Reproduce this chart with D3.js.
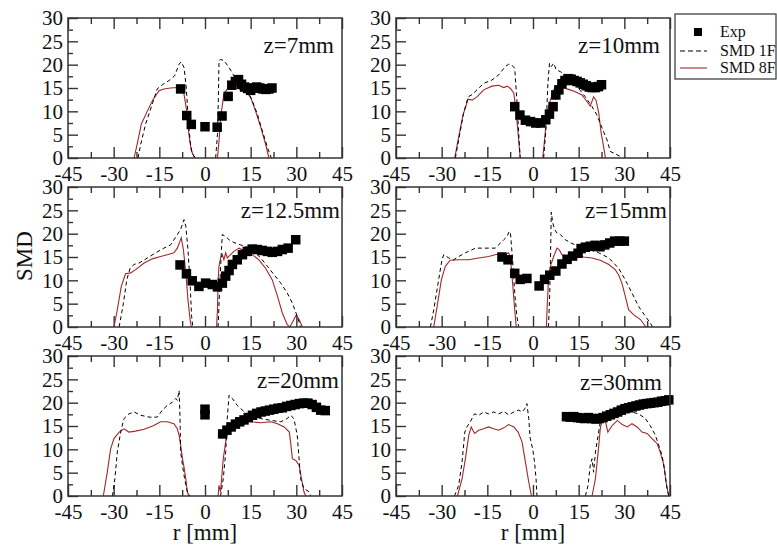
<!DOCTYPE html>
<html>
<head>
<meta charset="utf-8">
<script src="https://cdn.jsdelivr.net/npm/d3@7"></script>
<style>
  html, body { margin: 0; padding: 0; background: #fff; }
  svg { display: block; }
  svg text { font-family: "Liberation Serif", "Times New Roman", Times, serif; fill: #111; }
</style>
</head>
<body>
<svg id="chart" width="777" height="550"></svg>
<script>
// ---- tick values ----
const xTicks = [-45, -30, -15, 0, 15, 30, 45];
const xMinor = [-37.5, -22.5, -7.5, 7.5, 22.5, 37.5];
const yTicks = [0, 5, 10, 15, 20, 25, 30];
const yMinor = [2.5, 7.5, 12.5, 17.5, 22.5, 27.5];

// ---- panel titles ----
const titles = ["z=7mm", "z=10mm", "z=12.5mm", "z=15mm", "z=20mm", "z=30mm"];

// ---- experimental SMD (r, SMD) ----
const exp7 = [[-8.0,14.8],[-6.0,9.1],[-4.5,7.2],[0,6.7],[4,6.6],[5.6,9.0],[7.6,13.2],[8.8,15.6],[10,16.4],[11,16.8],[12,15.8],[13,15.2],[14,14.9],[15,14.5],[16,15.0],[17,15.2],[18,15.0],[19,14.8],[20,14.7],[21,14.8],[22,15.0]];
const exp10 = [[-6,11.0],[-4.3,9.2],[-2.5,8.1],[-0.8,7.8],[0.9,7.5],[2.5,7.5],[4.2,8.2],[5.4,9.4],[6.6,11.0],[7.5,13.5],[8.5,14.6],[9.5,15.9],[10.5,16.6],[11.5,17.0],[12.5,16.9],[13.5,16.6],[14.5,16.4],[15.5,16.1],[16.5,15.8],[17.5,15.5],[18.5,15.2],[19.5,15.1],[20.5,15.1],[21.5,15.3],[22.5,15.7]];
const exp12 = [[-8.2,13.3],[-6.1,11.4],[-4.2,9.9],[-2.0,8.7],[0.2,9.4],[2.4,9.1],[4.1,8.6],[5.7,9.4],[6.8,10.9],[7.9,12.1],[9.0,13.4],[10.6,14.4],[12.3,15.5],[13.9,16.2],[15.5,16.7],[17.2,16.6],[18.8,16.4],[20.5,16.2],[22.1,16.0],[23.8,16.2],[25.4,16.6],[27.3,16.9],[29.8,18.7]];
const exp15 = [[-10.2,15.0],[-8.2,14.4],[-6.0,11.5],[-4.2,10.2],[-2.0,10.4],[2.0,8.8],[3.8,10.2],[5.5,11.1],[7.5,12.0],[9.5,13.5],[11.2,14.5],[13.0,15.2],[14.8,15.8],[15.8,16.8],[17.2,17.1],[18.8,17.3],[20.4,17.5],[22.0,17.2],[23.6,17.6],[25.2,18.0],[26.8,18.4],[28.4,18.4],[30.0,18.4]];
const exp20 = [[0,18.6],[0,17.4],[5.8,13.3],[7.2,14.1],[8.6,14.8],[10.0,15.4],[11.4,15.9],[12.8,16.3],[14.2,16.8],[15.6,17.3],[17.0,17.7],[18.4,18.0],[19.8,18.2],[21.2,18.4],[22.6,18.6],[24.0,18.8],[25.4,18.9],[26.8,19.2],[28.2,19.4],[29.6,19.6],[31.0,19.8],[32.4,19.9],[33.8,19.9],[35.2,19.6],[36.6,19.0],[38.0,18.4],[39.5,18.3]];
const exp30 = [[11.0,17.0],[12.2,16.9],[13.4,17.0],[14.6,16.8],[15.8,16.7],[17.0,16.6],[18.2,16.8],[19.4,16.6],[20.6,16.5],[21.8,16.6],[23.0,16.8],[24.2,17.1],[25.4,17.4],[26.6,17.7],[27.8,18.0],[29.0,18.4],[30.2,18.7],[31.4,18.9],[32.6,19.1],[33.8,19.3],[35.0,19.5],[36.2,19.7],[37.4,19.8],[38.6,19.9],[39.8,20.0],[41.0,20.1],[42.2,20.3],[43.4,20.4],[44.6,20.6]];

// ---- SMD 1F simulation (null separates the two spray lobes) ----
const smd1F_7 = [[-22.0,0],[-21.1,3.0],[-19.5,7.3],[-17.3,11.6],[-15.7,14.8],[-14.0,15.7],[-11.8,16.6],[-10.0,17.6],[-8.5,20.1],[-7.8,20.6],[-6.9,19.4],[-6.2,15.5],[-5.6,9.4],[-4.9,3.7],[-4.2,0.9],[-3.1,0], null,
  [3.5,0],[4.1,5.1],[4.4,13.0],[4.6,20.9],[5.1,21.1],[6.2,20.9],[7.9,19.4],[9.5,17.6],[11.7,16.6],[13.9,14.4],[15.5,12.3],[17.2,9.4],[18.8,5.9],[20.5,2.3],[21.8,0]];
const smd1F_10 = [[-25.5,0],[-24.4,3.9],[-22.8,9.6],[-21.3,13.1],[-20.0,13.6],[-18.4,14.6],[-16.2,16.0],[-13.5,16.7],[-11.3,17.8],[-9.1,19.6],[-8.0,20.1],[-6.9,19.9],[-6.0,19.2],[-5.3,12.4],[-4.7,5.3],[-4.2,0], null,
  [3.5,0],[4.3,6.7],[4.9,16.0],[5.4,20.3],[6.0,19.6],[6.8,20.3],[7.6,18.9],[9.0,18.5],[10.6,17.8],[12.8,16.4],[15.0,14.9],[17.2,13.1],[19.4,11.0],[21.0,9.2],[22.1,7.4],[23.2,5.6],[24.3,3.9],[25.4,1.4],[27.0,0.9],[28.7,0.3],[29.2,0]];
const smd1F_12 = [[-28.2,0],[-26.8,5.1],[-25.7,10.1],[-24.6,12.6],[-23.3,13.4],[-21.7,13.7],[-18.9,14.8],[-16.2,15.9],[-13.5,16.9],[-11.3,17.6],[-9.1,19.8],[-8.0,20.9],[-6.9,23.0],[-6.3,21.6],[-5.6,16.6],[-4.9,9.4],[-4.4,2.3],[-4.0,0], null,
  [4.3,0],[4.8,8.0],[5.4,16.6],[5.7,19.8],[6.8,19.4],[7.9,18.7],[9.5,18.1],[11.7,17.6],[13.9,17.1],[16.1,16.2],[18.3,14.8],[20.5,13.0],[22.7,11.2],[24.9,9.4],[27.0,7.3],[28.7,5.1],[30.3,2.3],[31.4,0]];
const smd1F_15 = [[-33.7,0],[-32.6,3.7],[-31.0,10.1],[-29.9,14.4],[-29.3,15.5],[-27.7,14.8],[-26.1,14.4],[-24.4,15.1],[-22.2,15.9],[-18.9,16.9],[-14.6,16.9],[-12.4,16.9],[-11.3,17.6],[-9.6,18.7],[-8.5,19.4],[-7.8,20.5],[-7.4,20.1],[-6.7,14.4],[-6.0,7.3],[-5.3,2.3],[-4.7,0], null,
  [5.1,0],[5.5,7.3],[5.8,16.6],[6.0,24.6],[6.5,22.3],[7.1,20.9],[7.9,20.1],[9.0,19.8],[10.6,18.7],[12.8,17.9],[15.0,17.3],[18.3,16.6],[21.6,15.9],[24.9,14.8],[28.1,12.6],[30.3,10.1],[32.5,7.3],[34.7,4.4],[36.9,2.3],[38.5,0.9],[39.3,0]];
const smd1F_20 = [[-30.4,0],[-29.6,3.7],[-28.8,9.4],[-27.7,13.7],[-26.6,16.6],[-25.0,17.6],[-23.3,18.0],[-21.1,17.3],[-18.4,16.9],[-15.7,16.9],[-14.0,18.4],[-12.4,19.4],[-10.7,20.1],[-9.6,20.9],[-9.1,20.5],[-8.5,22.6],[-8.2,16.6],[-8.0,9.4],[-7.4,6.6],[-6.7,3.7],[-5.8,0.9],[-4.9,0], null,
  [5.1,0],[6.0,3.7],[6.8,9.4],[7.3,16.6],[7.9,21.6],[9.0,20.9],[10.6,19.4],[12.8,18.1],[15.0,17.1],[18.3,16.6],[21.6,16.2],[24.9,15.9],[27.0,16.6],[28.1,17.3],[29.2,16.6],[30.3,13.0],[30.9,8.0],[31.4,3.7],[32.5,1.6],[34.2,0.9],[34.7,0]];
const smd1F_30 = [[-25.8,0],[-24.4,2.3],[-23.3,7.3],[-22.4,13.7],[-21.7,14.8],[-20.6,15.9],[-19.2,17.6],[-17.8,17.3],[-16.2,18.0],[-14.6,17.6],[-12.9,18.0],[-11.3,17.6],[-9.6,18.1],[-8.0,17.4],[-6.3,18.0],[-4.7,18.4],[-3.6,18.0],[-2.7,18.7],[-2.0,19.8],[-1.4,16.6],[-0.9,12.3],[-0.1,10.1],[0.5,7.3],[1.0,3.7],[1.3,0], null,
  [17.2,0],[18.1,2.3],[18.8,6.6],[19.4,8.0],[19.9,5.1],[20.5,9.4],[21.4,13.0],[22.1,15.9],[23.2,16.9],[24.9,17.6],[26.5,18.0],[28.1,18.4],[30.3,18.1],[32.5,18.0],[34.7,17.6],[36.9,16.6],[38.5,15.1],[40.2,13.0],[41.3,10.9],[42.4,8.7],[43.3,5.1],[44.0,1.6],[44.6,0]];

// ---- SMD 8F simulation ----
const smd8F_7 = [[-23.3,0],[-22.4,2.6],[-20.9,7.3],[-18.9,10.1],[-17.0,12.6],[-15.1,14.4],[-13.5,14.8],[-11.3,15.0],[-9.1,15.1],[-8.0,14.8],[-6.9,13.7],[-6.0,10.1],[-5.3,5.1],[-4.5,1.6],[-3.4,0], null,
  [4.1,0],[4.6,3.7],[5.2,9.0],[6.2,13.7],[7.3,14.8],[9.0,15.3],[11.2,14.8],[13.4,14.3],[15.0,13.0],[16.6,10.1],[18.3,6.6],[19.9,3.0],[21.0,0]];
const smd8F_10 = [[-25.7,0],[-24.6,3.9],[-23.0,9.2],[-21.3,12.6],[-20.0,12.4],[-18.4,13.1],[-16.2,14.6],[-13.5,15.4],[-11.3,15.6],[-9.6,15.1],[-8.5,15.4],[-7.4,14.9],[-6.3,13.9],[-5.6,10.3],[-4.9,5.3],[-4.2,0], null,
  [3.2,0],[3.8,3.9],[4.6,9.6],[5.7,12.4],[6.8,14.6],[7.9,15.4],[9.5,15.1],[11.7,14.7],[13.9,14.2],[16.1,13.5],[17.7,12.1],[18.8,11.1],[19.9,13.1],[20.7,12.4],[21.6,9.6],[22.4,5.3],[23.2,2.4],[23.8,0]];
const smd8F_12 = [[-29.9,0],[-28.8,3.7],[-27.5,8.7],[-26.1,11.4],[-24.4,11.6],[-22.8,12.3],[-20.0,13.7],[-17.3,14.6],[-14.6,15.1],[-12.4,15.5],[-10.2,15.9],[-9.1,16.9],[-8.2,18.4],[-7.8,19.1],[-7.1,16.6],[-6.3,11.6],[-5.6,5.9],[-4.9,1.6],[-4.5,0], null,
  [3.8,0],[4.1,3.7],[4.3,10.1],[4.6,13.0],[5.1,14.8],[5.7,15.5],[6.2,14.4],[6.8,15.9],[7.3,14.8],[8.4,15.5],[9.5,16.2],[11.2,16.9],[13.4,16.2],[15.5,15.5],[17.7,14.4],[19.9,12.6],[22.1,10.1],[23.8,6.6],[25.4,3.0],[27.0,0.5],[27.9,0],[29.2,1.6],[30.0,2.6],[30.9,1.6],[32.0,0]];
const smd8F_15 = [[-32.6,0],[-31.5,4.4],[-30.1,10.1],[-28.8,13.0],[-27.2,14.3],[-24.4,14.4],[-21.1,14.4],[-17.8,14.8],[-14.6,15.1],[-12.4,15.5],[-10.7,15.7],[-9.1,15.5],[-8.0,15.9],[-7.4,14.8],[-6.7,9.4],[-6.0,3.7],[-5.5,0], null,
  [4.4,0],[4.7,5.1],[5.1,10.1],[5.7,13.0],[6.8,15.1],[7.9,16.9],[8.6,16.6],[9.5,15.5],[11.7,15.1],[13.9,15.5],[16.6,15.0],[19.4,14.8],[22.1,14.3],[24.9,13.4],[27.0,12.3],[28.1,11.2],[29.2,9.4],[30.3,6.6],[31.4,3.7],[33.1,2.6],[35.3,1.6],[37.1,0]];
const smd8F_20 = [[-33.4,0],[-32.1,5.1],[-31.0,10.1],[-29.9,12.3],[-28.2,13.7],[-26.6,14.4],[-25.0,13.7],[-22.8,13.9],[-20.0,14.3],[-16.8,15.1],[-14.6,15.9],[-12.4,15.9],[-10.2,15.5],[-9.1,14.4],[-8.5,13.0],[-8.0,10.9],[-7.4,8.0],[-6.9,6.2],[-6.3,3.7],[-5.8,0.9],[-5.3,0], null,
  [4.3,0],[4.6,2.3],[5.1,0.9],[6.0,8.0],[6.8,11.6],[7.3,13.7],[8.4,15.5],[9.5,16.2],[10.6,15.9],[12.8,16.2],[15.0,15.9],[18.3,15.7],[21.6,15.9],[23.8,15.5],[26.0,14.8],[27.7,13.7],[28.1,11.6],[28.7,8.0],[29.8,7.6],[30.9,6.6],[31.7,3.7],[32.5,0.9],[33.1,0]];
const smd8F_30 = [[-24.8,0],[-23.3,3.7],[-22.2,8.0],[-21.1,13.0],[-20.3,14.8],[-19.2,13.4],[-17.8,14.1],[-16.2,14.4],[-14.6,14.8],[-12.9,14.4],[-11.3,14.1],[-9.6,14.6],[-8.0,15.3],[-6.3,14.8],[-4.9,13.7],[-3.6,11.6],[-2.5,7.3],[-1.4,3.0],[-0.5,0], null,
  [19.4,0],[20.5,3.7],[21.4,9.4],[22.1,14.4],[22.9,16.9],[23.8,15.9],[24.6,13.7],[26.0,15.1],[27.7,16.2],[29.3,15.3],[31.0,14.8],[32.5,15.5],[34.2,14.8],[35.8,13.7],[37.5,13.4],[39.1,12.3],[40.8,11.2],[41.8,9.4],[43.0,6.6],[43.7,3.0],[44.6,0]];

const expSets = [exp7, exp10, exp12, exp15, exp20, exp30];
const smd1FSets = [smd1F_7, smd1F_10, smd1F_12, smd1F_15, smd1F_20, smd1F_30];
const smd8FSets = [smd8F_7, smd8F_10, smd8F_12, smd8F_15, smd8F_20, smd8F_30];

// ---- layout ----
const colLeft = [68, 396];
const rowTop = [18, 187, 356];
const panelW = 274, panelH = 140;
const titleRight = [266, 264, 272, 271, 271, 266];
const titleBase = [35, 35, 31, 31, 32, 34];

const COLOR_8F = "#a3262a";
const COLOR_1F = "#000";
const FRAME = "#333";
const SERIF = '"Liberation Serif", "Times New Roman", Times, serif';

const svg = d3.select("#chart");
svg.append("rect").attr("width", 777).attr("height", 550).attr("fill", "#fff");

const x = d3.scaleLinear().domain([-45, 45]).range([0, panelW]);
const y = d3.scaleLinear().domain([0, 30]).range([panelH, 0]);
const line = d3.line().defined(d => d != null).x(d => x(d[0])).y(d => y(d[1]));

function serif(sel, size) {
  return sel.attr("font-family", SERIF).style("font-family", SERIF)
    .attr("font-size", size).style("font-size", size + "px").attr("fill", "#111");
}

titles.forEach((title, i) => {
  const col = i % 2, row = Math.floor(i / 2);
  const g = svg.append("g").attr("transform", `translate(${colLeft[col]},${rowTop[row]})`);

  // inward ticks: major and minor on top, bottom and left
  const bottomMajor = g.append("g").attr("transform", `translate(0,${panelH})`)
    .call(d3.axisBottom(x).tickValues(xTicks).tickFormat(d3.format("d"))
      .tickSizeInner(-11).tickSizeOuter(0).tickPadding(8));
  g.append("g").attr("transform", `translate(0,${panelH})`)
    .call(d3.axisBottom(x).tickValues(xMinor).tickFormat("").tickSizeInner(-6).tickSizeOuter(0));
  g.append("g").call(d3.axisTop(x).tickValues(xTicks).tickFormat("").tickSizeInner(-11).tickSizeOuter(0));
  g.append("g").call(d3.axisTop(x).tickValues(xMinor).tickFormat("").tickSizeInner(-6).tickSizeOuter(0));
  const leftMajor = g.append("g")
    .call(d3.axisLeft(y).tickValues(yTicks).tickFormat(d3.format("d"))
      .tickSizeInner(-10).tickSizeOuter(0).tickPadding(5));
  g.append("g").call(d3.axisLeft(y).tickValues(yMinor).tickFormat("").tickSizeInner(-5).tickSizeOuter(0));

  g.selectAll(".domain").remove();
  g.selectAll(".tick line").attr("stroke", FRAME).attr("stroke-width", 1.4);
  serif(bottomMajor.selectAll("text"), 21).text(d => d < 0 ? "-" + Math.abs(d) : d);
  serif(leftMajor.selectAll("text"), 21);

  // simulation curves
  g.append("path").datum(smd8FSets[i]).attr("d", line)
    .attr("fill", "none").attr("stroke", COLOR_8F).attr("stroke-width", 1.1);
  g.append("path").datum(smd1FSets[i]).attr("d", line)
    .attr("fill", "none").attr("stroke", COLOR_1F).attr("stroke-width", 1)
    .attr("stroke-dasharray", "4,3");

  // experimental points
  const s = 9.5;
  g.selectAll("rect.exp").data(expSets[i]).join("rect").attr("class", "exp")
    .attr("x", d => x(d[0]) - s / 2).attr("y", d => y(d[1]) - s / 2)
    .attr("width", s).attr("height", s).attr("fill", "#000");

  // frame
  g.append("rect").attr("width", panelW).attr("height", panelH)
    .attr("fill", "none").attr("stroke", FRAME).attr("stroke-width", 1.5);

  // title
  serif(g.append("text").attr("x", titleRight[i]).attr("y", titleBase[i])
    .attr("text-anchor", "end"), 23).text(title);
});

// axis titles
serif(svg.append("text").attr("transform", "translate(32,256) rotate(-90)")
  .attr("text-anchor", "middle"), 23).text("SMD");
[0, 1].forEach(c => {
  serif(svg.append("text").attr("x", colLeft[c] + panelW / 2).attr("y", 540)
    .attr("text-anchor", "middle"), 23).text("r [mm]");
});

// legend
const lg = svg.append("g").attr("transform", "translate(675,14)");
lg.append("rect").attr("width", 101).attr("height", 65)
  .attr("fill", "#fff").attr("stroke", FRAME).attr("stroke-width", 1.2);
const items = [
  { name: "Exp", kind: "exp" },
  { name: "SMD 1F", kind: "1F" },
  { name: "SMD 8F", kind: "8F" }
];
const rowY = [18, 37, 54];
items.forEach((it, k) => {
  const yy = rowY[k];
  if (it.kind === "exp") {
    lg.append("rect").attr("x", 19).attr("y", yy - 4).attr("width", 8).attr("height", 8).attr("fill", "#000");
  } else {
    lg.append("line").attr("x1", 5).attr("x2", 32).attr("y1", yy).attr("y2", yy)
      .attr("stroke", it.kind === "1F" ? COLOR_1F : COLOR_8F)
      .attr("stroke-width", 1.1)
      .attr("stroke-dasharray", it.kind === "1F" ? "5,3" : null);
  }
  serif(lg.append("text").attr("x", 45).attr("y", yy + 5), 16).text(it.name);
});
</script>
</body>
</html>
